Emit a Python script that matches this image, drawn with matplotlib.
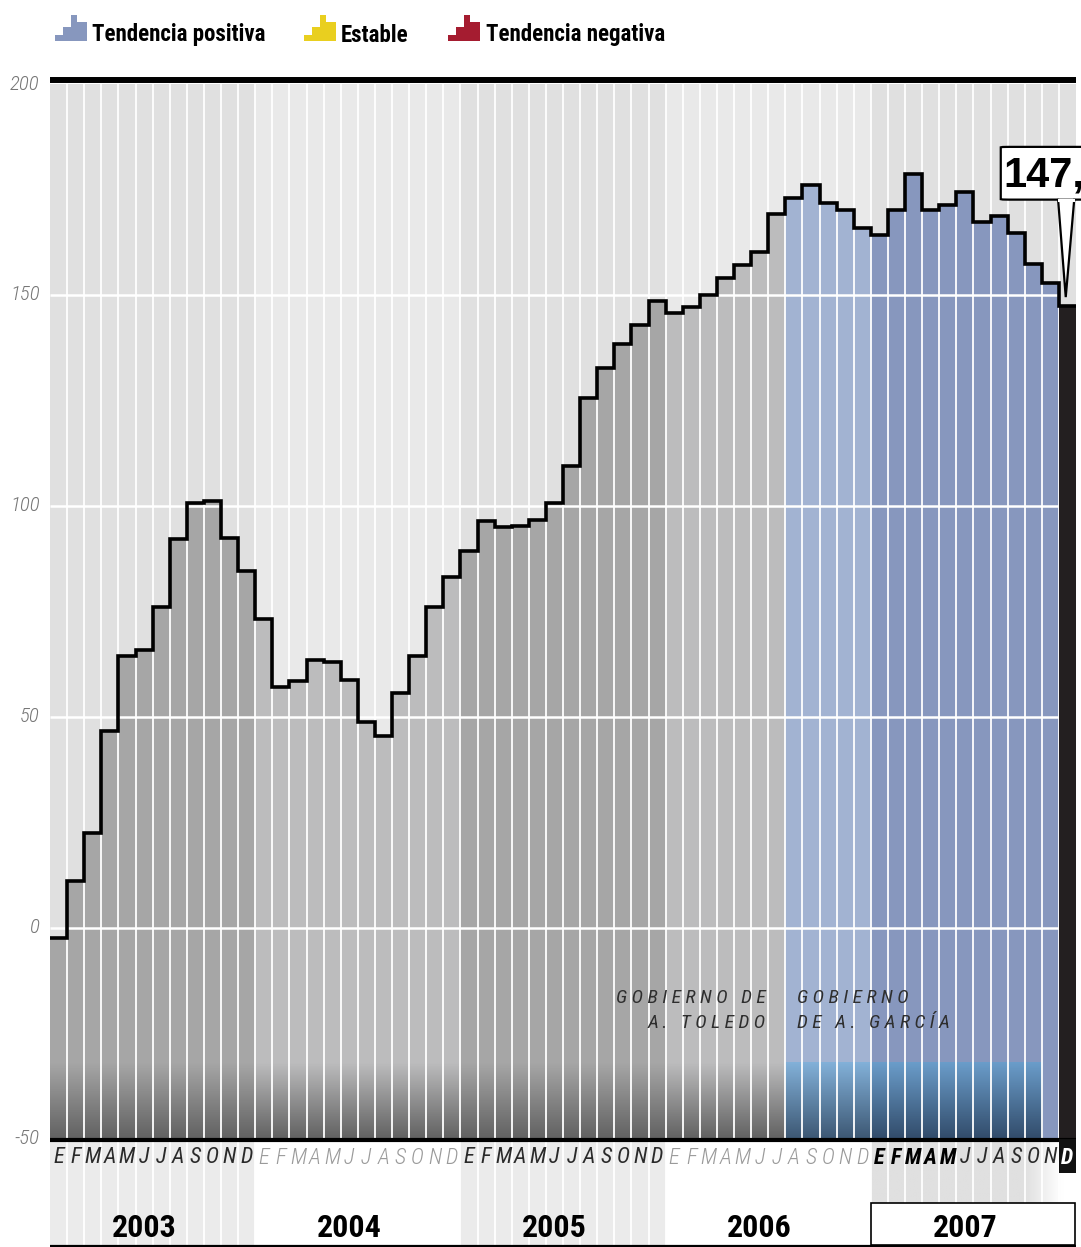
import matplotlib.pyplot as plt
import numpy as np
from matplotlib.patches import Polygon, Rectangle, FancyBboxPatch
from matplotlib.colors import to_rgb

plt.rcParams['font.family'] = ['Roboto Condensed', 'Roboto', 'DejaVu Sans']

# data
years = ['2003', '2004', '2005', '2006', '2007']
months = ['E', 'F', 'M', 'A', 'M', 'J', 'J', 'A', 'S', 'O', 'N', 'D']
v2003 = [-2.4, 11.1, 22.5, 46.7, 64.5, 65.9, 76.1, 92.2, 100.7, 101.2, 92.4, 84.6]
v2004 = [73.2, 57.1, 58.5, 63.5, 63.0, 58.8, 48.8, 45.5, 55.7, 64.5, 76.1, 83.2]
v2005 = [89.3, 96.4, 95.0, 95.3, 96.7, 100.7, 109.5, 125.6, 132.7, 138.4, 142.9, 148.6]
v2006 = [145.7, 147.2, 150.0, 154.0, 157.1, 160.2, 169.2, 173.0, 176.1, 171.8, 170.1, 165.9]
v2007 = [164.2, 170.1, 178.7, 170.1, 171.3, 174.4, 167.3, 168.7, 164.7, 157.3, 152.8, 147.5]
y_ticks = [200, 150, 100, 50, 0, -50]
legend_labels = ['Tendencia positiva', 'Estable', 'Tendencia negativa']
legend_colors = ['#8797be', '#e9cf1f', '#a51c30']
callout_text = '147,'
toledo_lines = ['GOBIERNO DE', 'A. TOLEDO']
garcia_lines = ['GOBIERNO', 'DE A. GARCÍA']
garcia_start = 43  # agosto 2006

values = np.array(v2003 + v2004 + v2005 + v2006 + v2007)
n = len(values)
W, H = 1081, 1247
YMIN, YMAX = -75.6, 200


def spaced(s):
    return ' '.join(s)


def month_color(i):
    k = i // 12
    if i == n - 1:
        return '#231f20'
    if k == 4:
        return '#8797be'
    if i >= garcia_start:
        return '#a2b3d2'
    return '#a6a6a6' if k % 2 == 0 else '#bcbcbd'


def grad_colors(i):
    if i >= 48:
        return '#6a9cc9', '#324c6b'
    if i >= garcia_start:
        return '#82b0d8', '#3d5874'
    return month_color(i), '#626262'


fig = plt.figure(figsize=(W / 100, H / 100), dpi=100)
ax = fig.add_axes([50 / W, 0, 1026 / W, (H - 84) / H])
ax.set_xlim(0, n)
ax.set_ylim(YMIN, YMAX)
ax.axis('off')

# background columns and year band
for k in range(len(years)):
    bg = '#e0e0e0' if k % 2 == 0 else '#e9e9e9'
    ax.add_patch(Rectangle((12 * k, -50), 12, 250, color=bg, zorder=0, lw=0))
    if k in (0, 2):
        ax.add_patch(Rectangle((12 * k, YMIN), 12, -50 - YMIN, color='#ebebeb', zorder=0, lw=0))

# 2007 band fading to white
band = np.ones((1, 120, 3))
c0 = np.array(to_rgb('#e0e0e0'))
for j in range(120):
    t = j / 119 * 12
    f = 0 if t < 9 else min(1, (t - 9) / 2.2)
    band[0, j] = c0 * (1 - f) + np.ones(3) * f
ax.imshow(band, extent=(48, 60, -65.2, -50), aspect='auto', zorder=0)

# bars
x = np.arange(n)
ax.bar(x, values + 50, bottom=-50, width=1, align='edge',
       color=[month_color(i) for i in x], lw=0, zorder=1)

# darker gradient at the base of each column
for i in range(n - 2):
    top, bot = grad_colors(i)
    g = np.linspace(to_rgb(top), to_rgb(bot), 40).reshape(40, 1, 3)
    ax.imshow(g, extent=(i, i + 1, -50, -31.8), aspect='auto', zorder=2)

ax.set_xlim(0, n)
ax.set_ylim(YMIN, YMAX)

# white column separators and gridlines
ax.vlines(np.arange(1, n), YMIN, 200, color='white', lw=1.3, zorder=3)
ax.hlines([0, 50, 100, 150], 0, n - 1, color='white', lw=1.8, zorder=3)

# last month in black
ax.bar([n - 1], [values[-1] + 50], bottom=-50, width=1, align='edge',
       color='#231f20', lw=0, zorder=4)

# step line
ax.stairs(values, np.arange(n + 1), baseline=None, color='black', lw=2.6, zorder=5)

# frame lines
ax.plot([0, n], [200.9, 200.9], color='black', lw=4.3, zorder=6, clip_on=False,
        solid_capstyle='butt')
ax.plot([0, n], [-50.2, -50.2], color='black', lw=3, zorder=6, solid_capstyle='butt')
ax.plot([0, n], [-75.3, -75.3], color='black', lw=1.6, zorder=6, solid_capstyle='butt')

# y tick labels
for t in y_ticks:
    ax.text(-0.6, t, str(t), ha='right', va='center', fontsize=15,
            style='italic', fontweight='light', color='#777777', clip_on=False)

# month labels
for i in range(n):
    k, m = divmod(i, 12)
    col, weight = ('#2a2a2a', 'normal') if k % 2 == 0 else ('#9a9a9a', 'light')
    if k == 4 and m < 5:
        col, weight = 'black', 'bold'
    if i == n - 1:
        ax.add_patch(Rectangle((i, -58.1), 1, 8.1, color='#111111', lw=0, zorder=6))
        col, weight = 'white', 'bold'
    ax.text(i + 0.5, -54.5, months[m], ha='center', va='center', fontsize=16,
            style='italic', color=col, fontweight=weight, zorder=7)

# year labels
ax.add_patch(Rectangle((48.0, -75.1), 11.93, 9.9, facecolor='white',
                       edgecolor='black', lw=1.2, zorder=6))
for k, yr in enumerate(years):
    ax.text(12 * k + 5.5, -71.0, yr, ha='center', va='center', fontsize=23,
            fontweight='bold', color='black', zorder=7)

# government labels
for j, line in enumerate(toledo_lines):
    ax.text(41.87, -16.6 - 5.9 * j, spaced(line), ha='right', va='center',
            fontsize=14, style='italic', color='#2e2e2e', zorder=6)
for j, line in enumerate(garcia_lines):
    ax.text(43.7, -16.6 - 5.9 * j, spaced(line), ha='left', va='center',
            fontsize=14, style='italic', color='#2e2e2e', zorder=6)

# callout for the last value
asp = (1026 / n) / ((H - 84) / (YMAX - YMIN))
ax.add_patch(FancyBboxPatch((55.75, 172.9), 6, 12.0,
                            boxstyle='round,pad=0,rounding_size=0.45',
                            mutation_aspect=1 / asp, facecolor='#bdbdbd',
                            edgecolor='none', zorder=7, clip_on=False))
ax.add_patch(FancyBboxPatch((55.6, 172.6), 6, 12.5,
                            boxstyle='round,pad=0,rounding_size=0.45',
                            mutation_aspect=1 / asp, facecolor='white',
                            edgecolor='black', lw=1.6, zorder=8, clip_on=False))
tip = (n - 0.6, values[-1] + 2.0)
ax.add_patch(Polygon([(n - 1.05, 172.8), tip, (n - 0.1, 172.8)], closed=False,
                     facecolor='white', edgecolor='black', lw=1.6, zorder=9,
                     clip_on=False))
ax.plot([n - 1.0, n - 0.15], [172.6, 172.6], color='white', lw=2.2, zorder=10,
        clip_on=False)
ax.text(55.75, 178.4, callout_text, ha='left', va='center', fontsize=30,
        fontweight='bold', family='Liberation Sans', zorder=11, clip_on=False)

# legend with step icons
steps = [(0, 8.3, 0.24), (8.3, 15.6, 0.53), (15.6, 22.3, 1.0), (22.3, 31.7, 0.73)]
icon_x = [55, 304, 448]
text_x = [92, 341, 486]
for ix, tx, lab, c in zip(icon_x, text_x, legend_labels, legend_colors):
    pts = [(ix, 41)]
    for a, b, h in steps:
        pts += [(ix + a, 41 - 26 * h), (ix + b, 41 - 26 * h)]
    pts.append((ix + 31.7, 41))
    pts = [(px / W, 1 - py / H) for px, py in pts]
    fig.add_artist(Polygon(pts, closed=True, facecolor=c, edgecolor='none',
                           transform=fig.transFigure))
    fig.text(tx / W, 1 - 35 / H, lab, ha='left', va='center', fontsize=16.5,
             fontweight='bold', color='black')

fig.savefig('out.png', dpi=100)
